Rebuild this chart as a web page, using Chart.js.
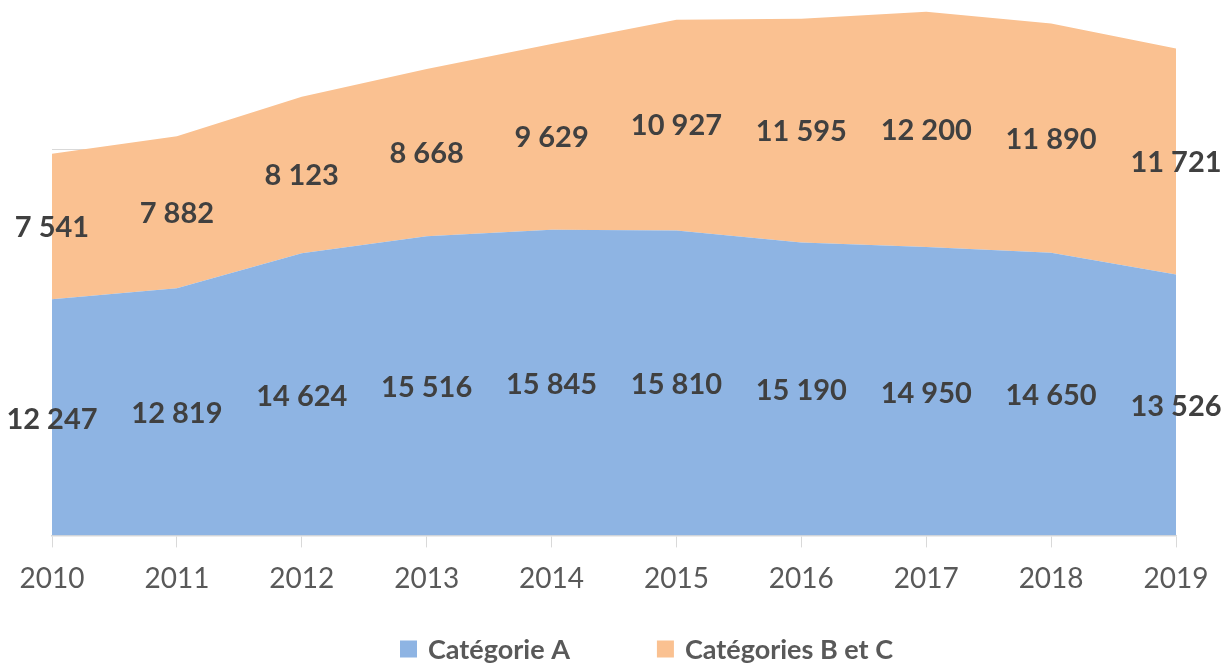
<!DOCTYPE html>
<html><head><meta charset="utf-8">
<script src="https://cdn.jsdelivr.net/npm/chart.js@4.4.1/dist/chart.umd.min.js"></script>
<style>html,body{margin:0;padding:0;background:#fff}#wrap{width:1225px;height:665px}</style>
</head><body><div id="wrap"><canvas id="c" width="1225" height="665"></canvas></div>
<script>
const years = ['2010','2011','2012','2013','2014','2015','2016','2017','2018','2019'];
const seriesA = [12247, 12819, 14624, 15516, 15845, 15810, 15190, 14950, 14650, 13526];
const seriesBC = [7541, 7882, 8123, 8668, 9629, 10927, 11595, 12200, 11890, 11721];
const seriesNames = ['Catégorie A', 'Catégories B et C'];
const colors = ['#8EB4E3', '#FAC191'];

function fmt(v){ return String(v).replace(/\B(?=(\d{3})+(?!\d))/g, ' '); }

const labelPlugin = {
  id: 'areaLabels',
  afterDatasetsDraw(chart){
    const ctx = chart.ctx;
    const y = chart.scales.y;
    const base = y.getPixelForValue(0);
    const m0 = chart.getDatasetMeta(0), m1 = chart.getDatasetMeta(1);
    ctx.save();
    ctx.font = 'bold 29px Lato';
    ctx.fillStyle = '#404040';
    ctx.textAlign = 'center';
    ctx.textBaseline = 'middle';
    m0.data.forEach((p, i) => {
      const yA = p.y, yB = m1.data[i].y;
      ctx.fillText(fmt(seriesA[i]), p.x, (base + yA) / 2 + 2);
      ctx.fillText(fmt(seriesBC[i]), p.x, (yA + yB) / 2 + 1);
    });
    ctx.restore();
  }
};

const legendPlugin = {
  id: 'customLegend',
  afterDraw(chart){
    const ctx = chart.ctx;
    ctx.save();
    ctx.font = 'bold 27px Lato';
    ctx.textBaseline = 'middle';
    const cy = 649, box = 17, gap = 11, between = 87;
    let x = 400;
    seriesNames.forEach((n, i) => {
      ctx.fillStyle = colors[i];
      ctx.fillRect(x, cy - box/2, box, box);
      ctx.fillStyle = '#595959';
      ctx.textAlign = 'left';
      ctx.fillText(n, x + box + gap, cy + 1);
      x += box + gap + ctx.measureText(n).width + between;
    });
    ctx.restore();
  }
};

new Chart(document.getElementById('c'), {
  type: 'line',
  data: {
    labels: years,
    datasets: [
      { label: seriesNames[0], data: seriesA, backgroundColor: colors[0], borderWidth: 0, fill: 'origin', pointRadius: 0, tension: 0 },
      { label: seriesNames[1], data: seriesBC, backgroundColor: colors[1], borderWidth: 0, fill: '-1', pointRadius: 0, tension: 0 }
    ]
  },
  options: {
    responsive: false,
    animation: false,
    layout: { padding: { left: 52, right: 49, top: 5, bottom: 54 } },
    plugins: { legend: { display: false }, tooltip: { enabled: false } },
    scales: {
      x: {
        offset: false,
        grid: { drawOnChartArea: false, color: '#D9D9D9', tickLength: 12 },
        border: { color: '#D9D9D9', width: 1.5 },
        ticks: { color: '#595959', font: { family: 'Lato', size: 28 }, padding: 15, maxRotation: 0 }
      },
      y: {
        stacked: true, min: 0, max: 27500,
        afterBuildTicks(axis){ axis.ticks = [{ value: 20000 }]; },
        grid: { color: '#D9D9D9', drawTicks: false },
        border: { display: false },
        ticks: { display: false }
      }
    }
  },
  plugins: [labelPlugin, legendPlugin]
});
</script></body></html>
